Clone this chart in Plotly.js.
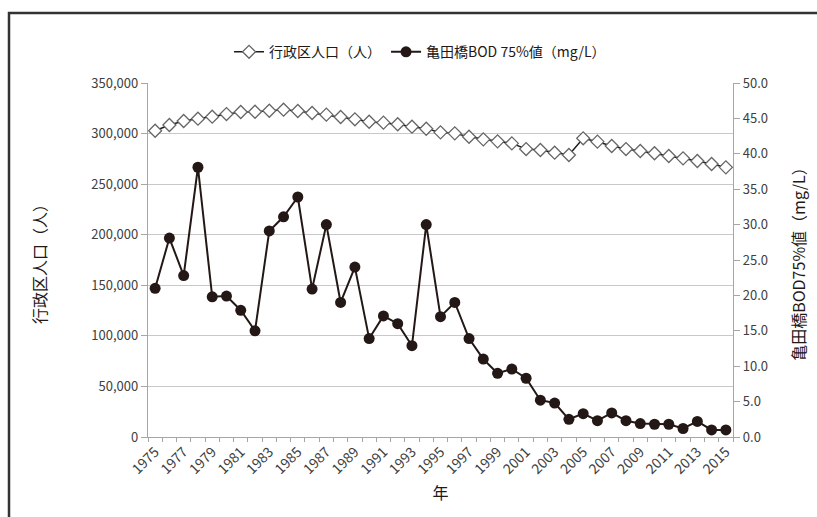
<!DOCTYPE html>
<html>
<head>
<meta charset="utf-8">
<script src="https://cdn.plot.ly/plotly-3.0.1.min.js"></script>
<style>
html,body{margin:0;padding:0;background:#fff;}
#chart{width:817px;height:517px;}
</style>
</head>
<body>
<div id="chart"></div>
<script>
var years = [1975,1976,1977,1978,1979,1980,1981,1982,1983,1984,1985,1986,1987,1988,1989,1990,1991,1992,1993,1994,1995,1996,1997,1998,1999,2000,2001,2002,2003,2004,2005,2006,2007,2008,2009,2010,2011,2012,2013,2014,2015];
var population = [302800,308500,312400,314700,316700,319300,321300,321600,322600,323600,322300,320300,318700,316400,314100,311700,310800,309200,306800,304800,301200,300200,296900,294300,292300,290300,284700,283800,281100,278800,295300,292000,287700,284700,282800,280500,277800,275500,272900,269900,266600];
var bod = [21.0,28.1,22.8,38.1,19.8,19.9,17.9,15.0,29.1,31.1,33.9,20.9,30.0,19.0,24.0,13.9,17.1,16.0,12.9,30.0,17.0,19.0,13.9,11.0,9.0,9.6,8.3,5.2,4.8,2.5,3.3,2.3,3.4,2.3,1.9,1.8,1.8,1.2,2.2,1.0,1.0];
var yearLabels = ["1975","1977","1979","1981","1983","1985","1987","1989","1991","1993","1995","1997","1999","2001","2003","2005","2007","2009","2011","2013","2015"];
var yearLabelVals = [1975,1977,1979,1981,1983,1985,1987,1989,1991,1993,1995,1997,1999,2001,2003,2005,2007,2009,2011,2013,2015];

var FONT = '"Noto Sans CJK JP", "Noto Sans", sans-serif';

var traces = [
  {
    x: years, y: population, name: '行政区人口（人）', type: 'scatter', mode: 'lines+markers',
    line: {color: '#231815', width: 1.5},
    marker: {symbol: 'diamond', size: 10, color: '#ffffff', line: {color: '#666666', width: 1.3}},
    yaxis: 'y'
  },
  {
    x: years, y: bod, name: '亀田橋BOD 75%値（mg/L）', type: 'scatter', mode: 'lines+markers',
    line: {color: '#231815', width: 2},
    marker: {symbol: 'circle', size: 11, color: '#231815'},
    yaxis: 'y2'
  }
];

var layout = {
  width: 817, height: 517,
  margin: {l: 148, r: 84, t: 83, b: 80},
  paper_bgcolor: '#ffffff', plot_bgcolor: '#ffffff',
  font: {family: FONT, color: '#404040', size: 13},
  showlegend: true,
  legend: {orientation: 'h', x: 0.465, xanchor: 'center', y: 1.087, yanchor: 'middle',
           font: {size: 14, color: '#231815'}, itemwidth: 30, tracegroupgap: 0},
  xaxis: {
    range: [1974.5, 2015.5], tickmode: 'array', tickvals: yearLabelVals, ticktext: yearLabels,
    tickangle: -45, ticks: '', showgrid: false, zeroline: false,
    showline: true, linecolor: '#a6a6a6', linewidth: 1.2,
    tickfont: {size: 14, color: '#404040'},
    minor: {tick0: 1974.5, dtick: 1, ticks: 'outside', ticklen: 4, tickcolor: '#a6a6a6', showgrid: false},
    title: {text: '年', font: {size: 16, color: '#231815'}, standoff: 11}
  },
  yaxis: {
    range: [0, 350000], dtick: 50000, tickformat: ',d', ticks: 'outside', ticklen: 6, tickcolor: '#a6a6a6',
    showline: true, linecolor: '#a6a6a6', linewidth: 1.2,
    showgrid: true, gridcolor: '#c8c8c8', gridwidth: 1.2, zeroline: false,
    tickfont: {size: 13, color: '#404040'},
    title: {text: '行政区人口（人）', font: {size: 16, color: '#231815'}, standoff: 40}
  },
  yaxis2: {
    range: [0, 50], dtick: 5, tickformat: '.1f', overlaying: 'y', side: 'right',
    ticks: 'outside', ticklen: 6, tickcolor: '#a6a6a6',
    showline: true, linecolor: '#a6a6a6', linewidth: 1.2, showgrid: false, zeroline: false,
    tickfont: {size: 13, color: '#404040'},
    title: {text: '亀田橋BOD75%値（mg/L）', font: {size: 16, color: '#231815'}, standoff: 26}
  },
  shapes: [
    {type: 'rect', xref: 'paper', yref: 'paper', x0: -0.2376, x1: 1.3, y0: -0.4, y1: 1.1977,
     line: {color: '#333333', width: 2.5}, fillcolor: 'rgba(0,0,0,0)', layer: 'below'}
  ]
};

Plotly.newPlot('chart', traces, layout, {displayModeBar: false, staticPlot: true});
</script>
</body>
</html>
